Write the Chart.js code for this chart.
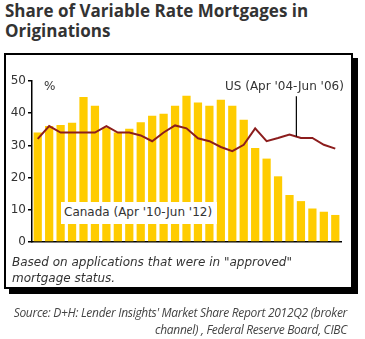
<!DOCTYPE html>
<html>
<head>
<meta charset="utf-8">
<script src="https://cdn.jsdelivr.net/npm/chart.js@4.4.1/dist/chart.umd.min.js"></script>
<style>
  html, body { margin: 0; padding: 0; background: #fff; }
  #page { position: relative; width: 365px; height: 339px; overflow: hidden; }
  #title { position: absolute; left: 5px; top: 1px; font: bold 17px "Open Sans", sans-serif; line-height: 20px; color: #333; white-space: nowrap; }
  #box { position: absolute; left: 4px; top: 53px; width: 349px; height: 236px; box-sizing: border-box; border: 2px solid #000; box-shadow: 5px 5px 0 #000; background: #fff; }
  #wrap { position: absolute; left: 5px; top: 60px; width: 348px; height: 199px; }
  .lbl { position: absolute; font: 12px "DejaVu Sans", sans-serif; color: #333; white-space: nowrap; }
  #pct { left: 44px; top: 79px; }
  #can { left: 61px; top: 202px; background: #fff; padding: 3px 5px 4px 3px; line-height: 15px; }
  #us { left: 225px; top: 79px; }
  #note { position: absolute; left: 12px; top: 254px; font: italic 12px "DejaVu Sans", sans-serif; line-height: 16px; color: #333; white-space: nowrap; }
  #src { position: absolute; right: 18px; top: 304px; text-align: right; font: italic 12px "Open Sans", sans-serif; letter-spacing: -0.3px; line-height: 17px; color: #444; white-space: nowrap; }
</style>
</head>
<body>
<div id="page">
  <div id="title">Share of Variable Rate Mortgages in<br>Originations</div>
  <div id="box"></div>
  <div id="wrap"><canvas id="c" width="348" height="199"></canvas></div>
  <div class="lbl" id="pct">%</div>
  <div class="lbl" id="can">Canada (Apr '10-Jun '12)</div>
  <div class="lbl" id="us">US (Apr '04-Jun '06)</div>
  <div id="note">Based on applications that were in "approved"<br>mortgage status.</div>
  <div id="src">Source: D+H: Lender Insights' Market Share Report 2012Q2 (broker<br>channel) , Federal Reserve Board, CIBC</div>
</div>
<script>
// Months of the series (Canada Apr '10 - Jun '12; US Apr '04 - Jun '06), 27 months
const categories = ['Apr','May','Jun','Jul','Aug','Sep','Oct','Nov','Dec',
  'Jan','Feb','Mar','Apr','May','Jun','Jul','Aug','Sep','Oct','Nov','Dec',
  'Jan','Feb','Mar','Apr','May','Jun'];
const canadaShare = [34, 36, 36.3, 37, 45, 42.3, 35.5, 34, 35.2, 37.2, 39.2, 39.8, 42.3, 45.4,
  43.3, 42.3, 44.2, 42.3, 38, 29.2, 25.9, 20.4, 14.6, 12.7, 10.4, 9.4, 8.4];
const usShare = [32, 36, 34, 34, 34, 34, 36, 34, 34, 33.1, 31.3, 34, 36.2, 35.3, 32.2, 31.3,
  29.5, 28.2, 30.2, 35.3, 31.3, 32.3, 33.4, 32.3, 32.3, 30.2, 29];
const yTicks = [0, 5, 10, 15, 20, 25, 30, 35, 40, 45, 50];

const leader = {
  id: 'leader',
  afterDatasetsDraw(chart) {
    const x = chart.scales.x, y = chart.scales.y;
    const pos = 22.6;
    const i = Math.floor(pos), f = pos - i;
    const v = usShare[i] * (1 - f) + usShare[i + 1] * f;
    const px = x.getPixelForValue(pos);
    const ctx = chart.ctx;
    ctx.save();
    ctx.strokeStyle = '#000';
    ctx.lineWidth = 1.2;
    ctx.beginPath();
    ctx.moveTo(px, y.getPixelForValue(45.3));
    ctx.lineTo(px, y.getPixelForValue(v));
    ctx.stroke();
    ctx.restore();
  }
};

new Chart(document.getElementById('c'), {
  type: 'bar',
  data: {
    labels: categories,
    datasets: [
      { type: 'line', label: 'US', data: usShare, borderColor: '#8C1D1D', borderWidth: 2,
        pointRadius: 0, tension: 0, order: 0 },
      { type: 'bar', label: 'Canada', data: canadaShare, backgroundColor: '#FFCC00',
        barPercentage: 0.72, categoryPercentage: 1, order: 1 }
    ]
  },
  options: {
    responsive: false,
    devicePixelRatio: 1,
    animation: false,
    layout: { padding: { top: 21, right: 12, bottom: 9, left: 0 } },
    plugins: { legend: { display: false }, tooltip: { enabled: false } },
    scales: {
      x: {
        ticks: { display: false },
        grid: { display: false },
        border: { display: true, color: '#000', width: 1.5 }
      },
      y: {
        min: 0, max: 50,
        afterBuildTicks(s) { s.ticks = yTicks.map(v => ({ value: v })); },
        afterFit(s) { s.width = 27; },
        ticks: { font: { family: 'DejaVu Sans', size: 12 }, color: '#333', padding: 2 },
        grid: { drawOnChartArea: false, drawTicks: true, tickLength: 4, color: '#000', lineWidth: 1.5 },
        border: { display: true, color: '#000', width: 1.5 }
      }
    }
  },
  plugins: [leader]
});
</script>
</body>
</html>
